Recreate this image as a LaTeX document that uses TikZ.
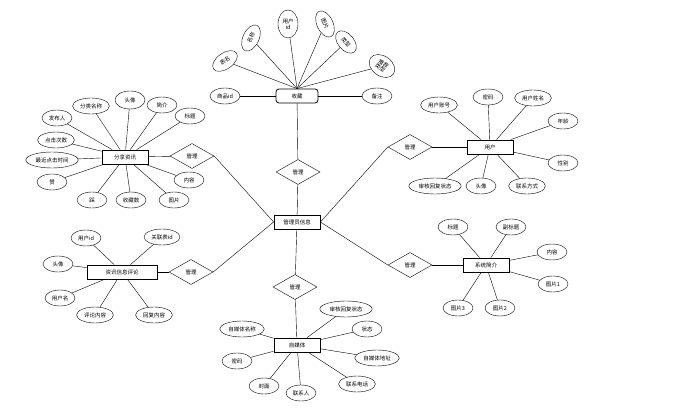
\documentclass[tikz,border=0pt]{standalone}
\usepackage{fontspec}
\setmainfont{Noto Sans CJK SC}
\usetikzlibrary{shapes.geometric}
\newcommand{\erfont}{\fontsize{5.5}{6.5}\selectfont}
\tikzset{
	entity/.style = {draw, thick, fill = white, minimum width = 46pt, minimum height = 14pt, inner sep = 1pt},
	attr/.style = {draw, ellipse, fill = white, minimum width = 30pt, minimum height = 16pt, inner sep = 2pt},
	relation/.style = {draw, diamond, fill = white, minimum width = 44pt, minimum height = 25pt, inner sep = 0pt, aspect = 1.8},
}
\begin{document}
\begin{tikzpicture}[x = 1pt, y = -1pt, every node/.style = {font = \erfont}]
	\useasboundingbox (0, 0) rectangle (680, 409);
	% central entity and relations
	\node[entity] (admin) at (297, 222) {管理员信息};
	\node[relation] (rfav) at (298, 172) {管理};
	\node[relation] (rnews) at (192, 156) {管理};
	\node[relation] (ruser) at (410, 147) {管理};
	\node[relation] (rintro) at (410, 265) {管理};
	\node[relation] (rcomm) at (191, 272) {管理};
	\node[relation] (rmedia) at (295, 287) {管理};
	\draw (rfav) -- (admin);
	\draw (rnews.east) -- (admin.west);
	\draw (rcomm.east) -- (admin.west);
	\draw (admin.east) -- (ruser.west);
	\draw (admin.east) -- (rintro.west);
	\draw (admin) -- (rmedia);

	% 收藏
	\node[entity, rounded corners = 3pt, minimum width = 42pt] (fav) at (297, 96) {收藏};
	\node[attr, rotate = 35, minimum width = 28pt] (fbm) at (225, 61) {表名};
	\node[attr, rotate = 65, minimum width = 28pt] (fmc) at (251, 38) {名称};
	\node[attr, minimum width = 20pt, minimum height = 28pt, align = center, inner sep = 0pt] (fyh) at (288, 24) {用户\\id};
	\node[attr, rotate = -65, minimum width = 28pt] (ftp) at (325, 24) {图片};
	\node[attr, rotate = -50, minimum width = 26pt] (flx) at (346, 42) {类型};
	\node[attr, rotate = -35, align = center, inner sep = 0pt, minimum width = 28pt, minimum height = 20pt] (ftj) at (382, 66) {推荐\\[-1pt]类型};
	\node[attr] (fsp) at (225, 96) {商品id};
	\node[attr] (fbz) at (377, 96) {备注};
	\foreach \a in {fbm, fmc, fyh, ftp, flx, ftj}
		\draw (\a) -- (fav.north);
	\draw (fsp) -- (fav) -- (fbz);
	\draw (fav) -- (rfav);

	% 分享资讯
	\node[entity] (news) at (125, 157) {分享资讯};
	\node[attr] (nfb) at (57, 118) {发布人};
	\node[attr] (nfl) at (91, 106) {分类名称};
	\node[attr, minimum height = 18pt] (ntx) at (130, 100) {头像};
	\node[attr] (njj) at (162, 105) {简介};
	\node[attr] (nbt) at (190, 116) {标题};
	\node[attr] (ndj) at (56, 140) {点击次数};
	\node[attr] (nzj) at (52, 160) {最近点击时间};
	\node[attr] (nz) at (52, 182) {赞};
	\node[attr] (nc) at (92, 200) {踩};
	\node[attr] (nsc) at (131, 200) {收藏数};
	\node[attr] (ntp) at (174, 200) {图片};
	\node[attr] (nnr) at (189, 180) {内容};
	\foreach \a in {nfb, nfl, ntx, njj, nbt, ndj, nzj, nz, nc, nsc, ntp, nnr}
		\draw (\a) -- (news);
	\draw (news) -- (rnews);

	% 用户
	\node[entity] (user) at (490, 147) {用户};
	\node[attr] (uzh) at (439, 105) {用户账号};
	\node[attr] (umm) at (488, 97) {密码};
	\node[attr] (uxm) at (533, 98) {用户姓名};
	\node[attr] (unl) at (563, 121) {年龄};
	\node[attr] (uxb) at (563, 163) {性别};
	\node[attr] (ulx) at (527, 186) {联系方式};
	\node[attr] (utx) at (481, 186) {头像};
	\node[attr] (ush) at (435, 186) {审核回复状态};
	\foreach \a in {uzh, umm, uxm, unl, uxb, ulx, utx, ush}
		\draw (\a) -- (user);
	\draw (ruser) -- (user);

	% 系统简介
	\node[entity] (intro) at (486, 265) {系统简介};
	\node[attr] (ibt) at (453, 227) {标题};
	\node[attr] (ifb) at (511, 227) {副标题};
	\node[attr] (inr) at (552, 252) {内容};
	\node[attr] (it1) at (553, 284) {图片1};
	\node[attr] (it2) at (500, 308) {图片2};
	\node[attr] (it3) at (458, 308) {图片3};
	\foreach \a in {ibt, ifb, inr, it1, it2, it3}
		\draw (\a) -- (intro);
	\draw (rintro) -- (intro);

	% 资讯信息评论
	\node[entity, minimum width = 70pt] (comm) at (122, 272) {资讯信息评论};
	\node[attr] (cyh) at (86, 238) {用户id};
	\node[attr] (cgl) at (162, 237) {关联表id};
	\node[attr] (ctx) at (58, 264) {头像};
	\node[attr] (cmc) at (60, 298) {用户名};
	\node[attr] (cpl) at (95, 315) {评论内容};
	\node[attr] (chf) at (154, 315) {回复内容};
	\foreach \a in {cyh, cgl, ctx, cmc, cpl, chf}
		\draw (\a) -- (comm);
	\draw (comm) -- (rcomm);

	% 自媒体
	\node[entity] (media) at (297, 345) {自媒体};
	\node[attr] (mmc) at (242, 329) {自媒体名称};
	\node[attr] (mmm) at (237, 361) {密码};
	\node[attr] (mfm) at (264, 386) {封面};
	\node[attr] (mlr) at (301, 393) {联系人};
	\node[attr] (mdh) at (357, 384) {联系电话};
	\node[attr] (mdz) at (377, 358) {自媒体地址};
	\node[attr] (mzt) at (367, 329) {状态};
	\node[attr] (msh) at (346, 309) {审核回复状态};
	\foreach \a in {mmc, mmm, mfm, mlr, mdh, mdz, mzt, msh}
		\draw (\a) -- (media);
	\draw (rmedia) -- (media);
\end{tikzpicture}
\end{document}
